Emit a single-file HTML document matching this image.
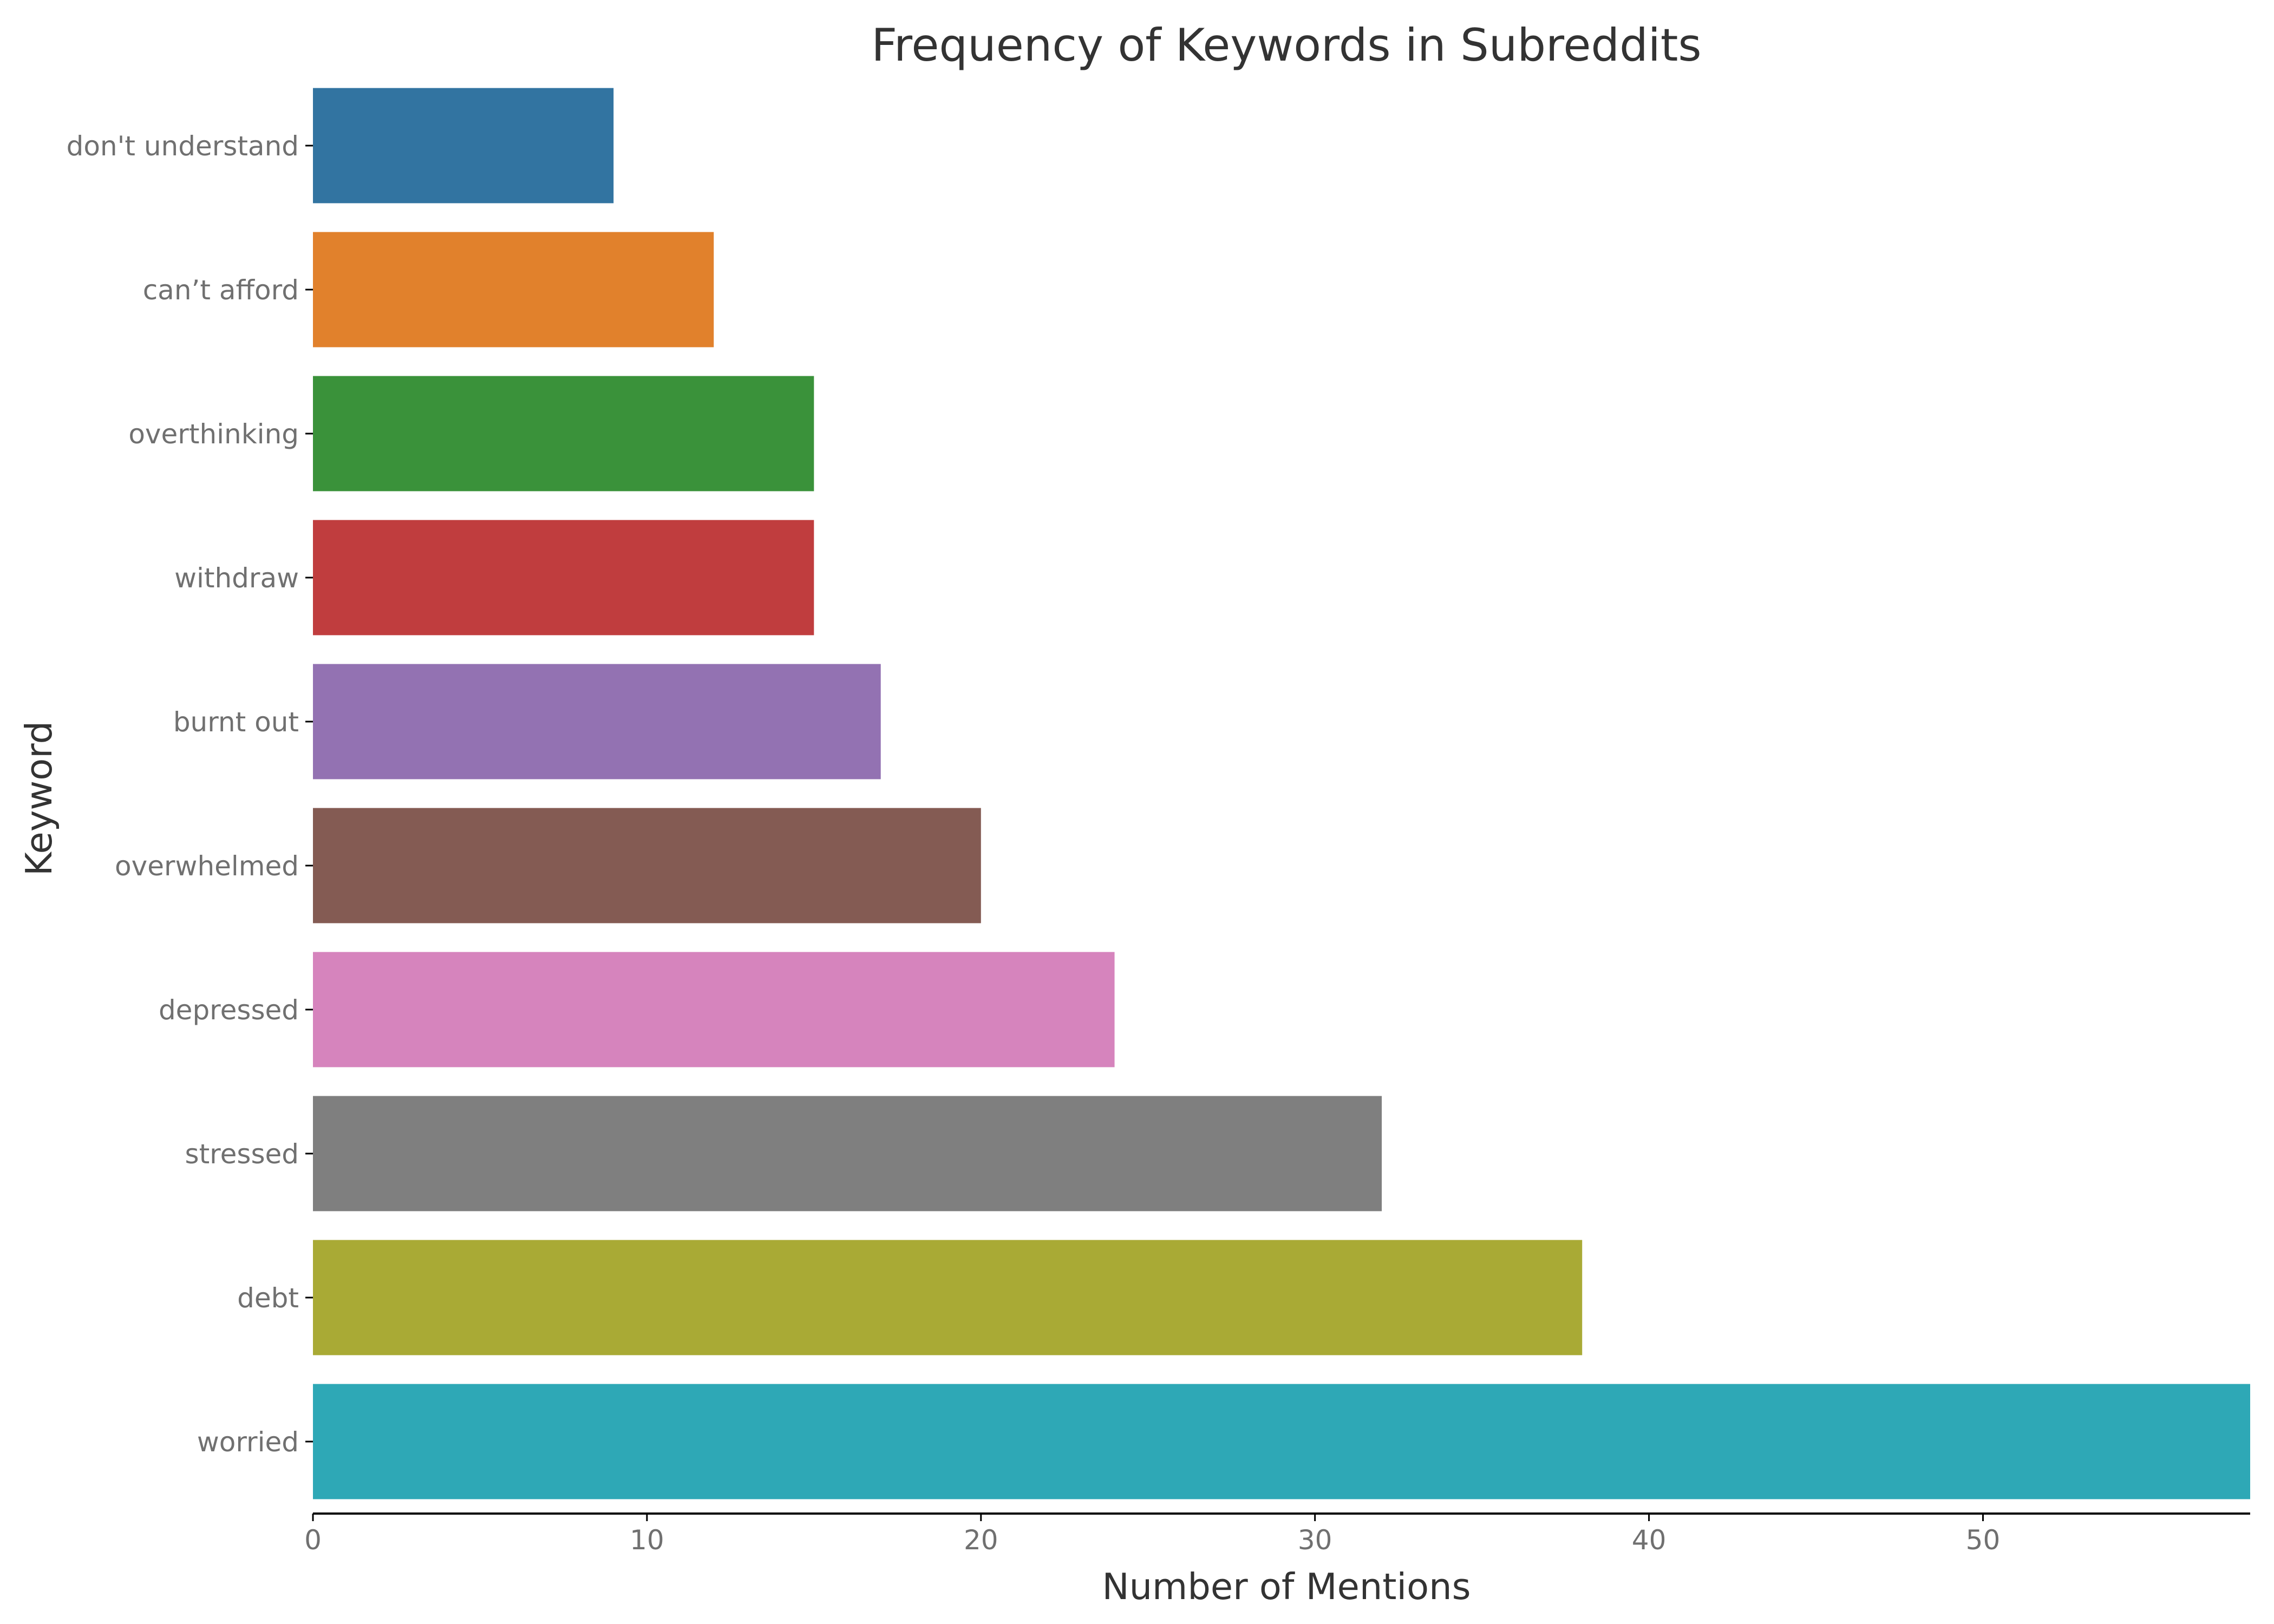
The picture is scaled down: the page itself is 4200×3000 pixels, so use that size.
<!DOCTYPE html>
<html><head><meta charset="utf-8"><style>
html,body{margin:0;padding:0;background:#fff;}
svg{display:block;font-family:"DejaVu Sans","Liberation Sans",sans-serif;}
</style></head><body>
<svg id="chart" width="4200" height="3000" viewBox="0 0 4200 3000" xmlns="http://www.w3.org/2000/svg">
<rect width="4200" height="3000" fill="#fff"/>
<text x="2376" y="112" text-anchor="middle" font-size="83" fill="#333">Frequency of Keywords in Subreddits</text>
<text x="2376" y="2954" text-anchor="middle" font-size="67" fill="#333">Number of Mentions</text>
<text transform="translate(95,1475) rotate(-90)" text-anchor="middle" font-size="67" fill="#333">Keyword</text>
<g id="bars"></g>
<g id="axes"></g>
</svg>
<script>
const categories = ["don't understand","can\u2019t afford","overthinking","withdraw","burnt out","overwhelmed","depressed","stressed","debt","worried"];
const values = [9,12,15,15,17,20,24,32,38,58];
const colors = ["#3274a1","#e1812c","#3a923a","#c03d3e","#9372b2","#845b53","#d684bd","#7f7f7f","#a9aa35","#2ea8b6"];
const xTicks = [0,10,20,30,40,50];
const xMax = 58;

const plotLeft = 578, plotRight = 4156, plotTop = 136, plotBottom = 2796;
const band = (plotBottom - plotTop) / categories.length;
function xScale(v){ return plotLeft + (v / xMax) * (plotRight - plotLeft); }
function yCenter(i){ return plotTop + band * (i + 0.5); }
const NS = "http://www.w3.org/2000/svg";
const barsG = document.getElementById('bars');
const axesG = document.getElementById('axes');

categories.forEach((c, i) => {
  const r = document.createElementNS(NS, 'rect');
  r.setAttribute('x', xScale(0));
  r.setAttribute('y', yCenter(i) - band * 0.4);
  r.setAttribute('width', xScale(values[i]) - xScale(0));
  r.setAttribute('height', band * 0.8);
  r.setAttribute('fill', colors[i]);
  
  
  barsG.appendChild(r);

  const t = document.createElementNS(NS, 'line');
  t.setAttribute('x1', plotLeft - 14); t.setAttribute('x2', plotLeft);
  t.setAttribute('y1', yCenter(i)); t.setAttribute('y2', yCenter(i));
  t.setAttribute('stroke', '#000'); t.setAttribute('stroke-width', '3');
  
  
  axesG.appendChild(t);

  const l = document.createElementNS(NS, 'text');
  l.setAttribute('x', plotLeft - 26);
  l.setAttribute('y', yCenter(i) + 18);
  l.setAttribute('text-anchor', 'end');
  l.setAttribute('font-size', '50');
  l.setAttribute('fill', '#707070');
  l.textContent = c;
  
  
  axesG.appendChild(l);
});

const spine = document.createElementNS(NS, 'line');
spine.setAttribute('x1', plotLeft); spine.setAttribute('x2', plotRight);
spine.setAttribute('y1', plotBottom); spine.setAttribute('y2', plotBottom);
spine.setAttribute('stroke', '#000'); spine.setAttribute('stroke-width', '4');


axesG.appendChild(spine);

xTicks.forEach(v => {
  const t = document.createElementNS(NS, 'line');
  t.setAttribute('x1', xScale(v)); t.setAttribute('x2', xScale(v));
  t.setAttribute('y1', plotBottom); t.setAttribute('y2', plotBottom + 14);
  t.setAttribute('stroke', '#000'); t.setAttribute('stroke-width', '3');
  
  
  axesG.appendChild(t);
  const l = document.createElementNS(NS, 'text');
  l.setAttribute('x', xScale(v));
  l.setAttribute('y', plotBottom + 66);
  l.setAttribute('text-anchor', 'middle');
  l.setAttribute('font-size', '50');
  l.setAttribute('fill', '#707070');
  l.textContent = String(v);
  
  
  axesG.appendChild(l);
});
</script>
</body></html>
